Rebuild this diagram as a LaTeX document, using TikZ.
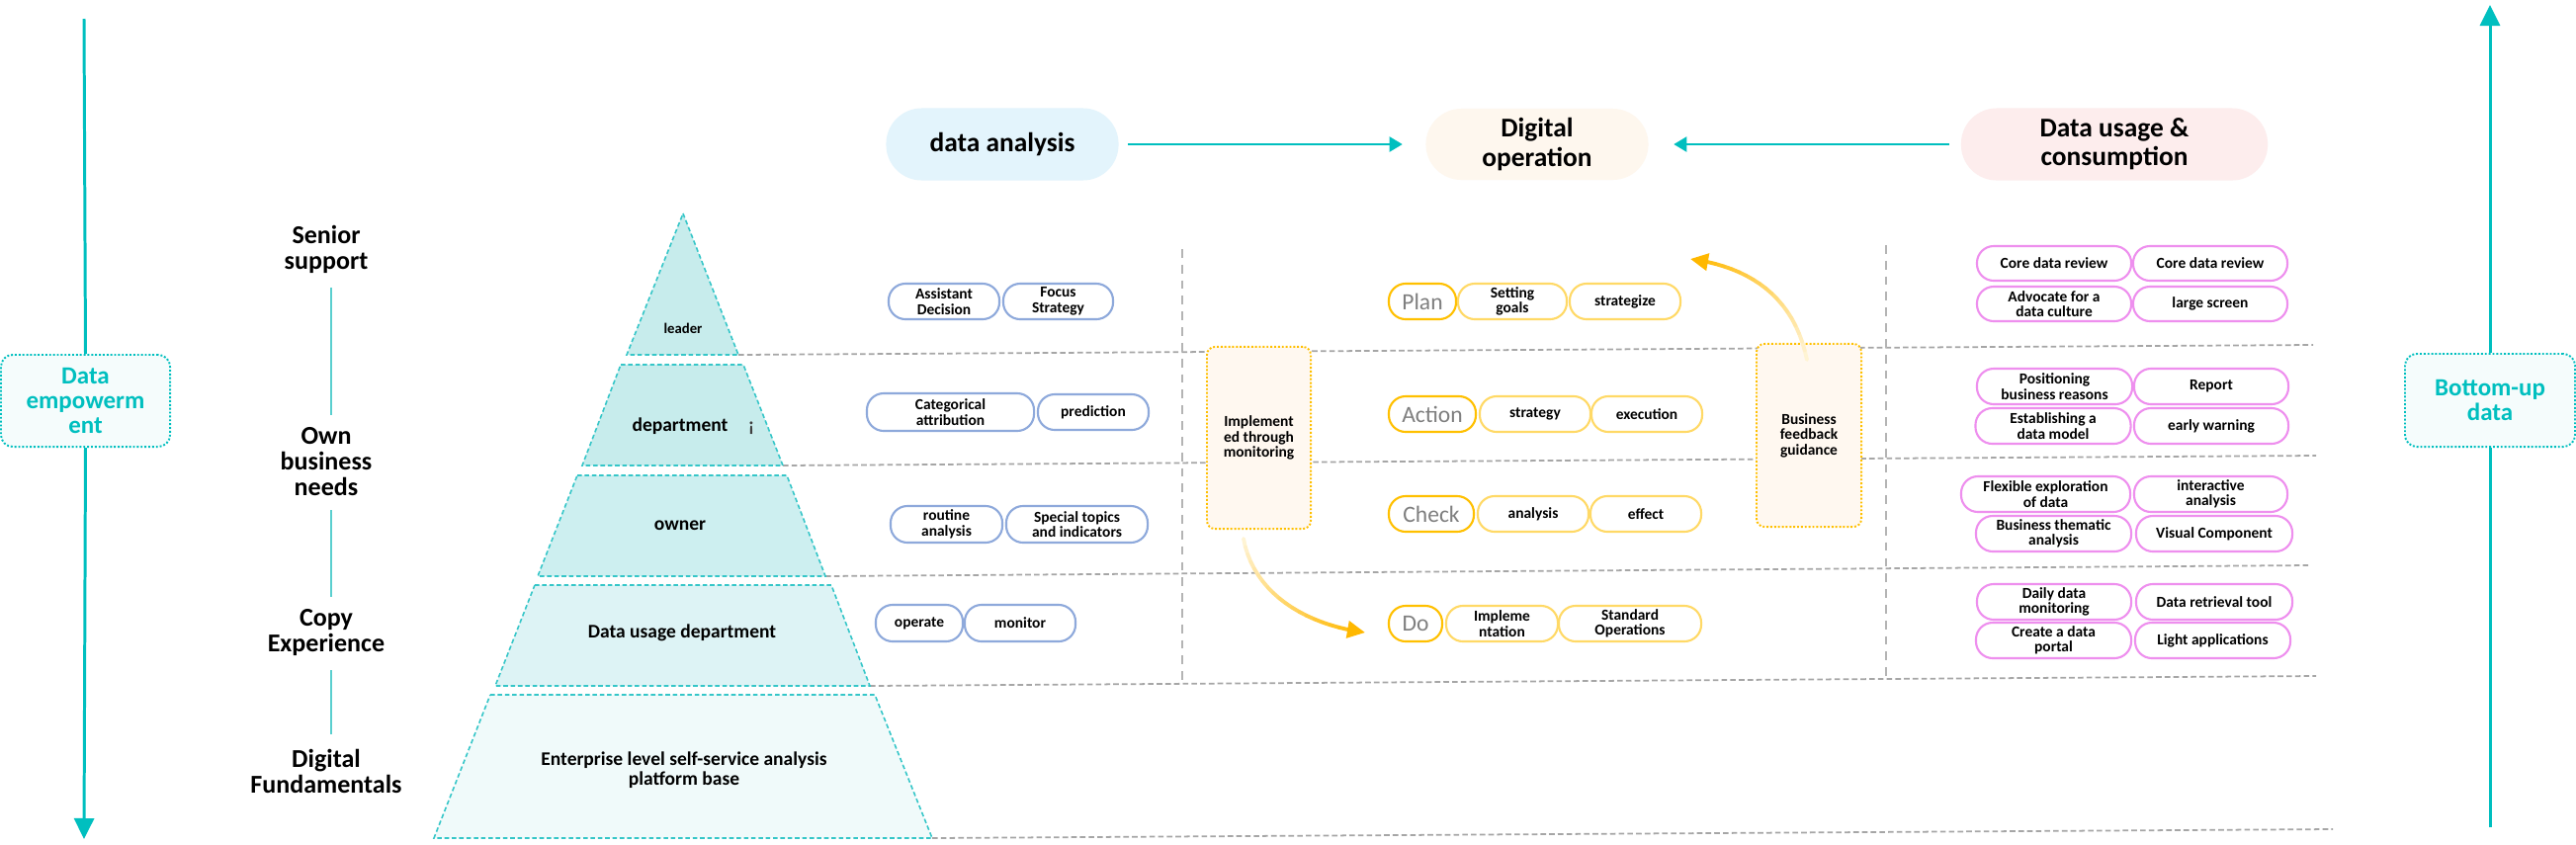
\documentclass[tikz,border=0pt]{standalone}
\usepackage{fontspec}
\setmainfont{Carlito}
\usetikzlibrary{arrows.meta}
\definecolor{tealA}{HTML}{00BFBF}
\definecolor{tealB}{HTML}{35C6C8}
\definecolor{tealC}{HTML}{5ACFCF}
\definecolor{pyrA}{HTML}{C7ECEC}
\definecolor{pyrA2}{HTML}{CDEFF0}
\definecolor{pyrB}{HTML}{DDF3F5}
\definecolor{pyrC}{HTML}{F0FAFA}
\definecolor{grayL}{HTML}{A6A6A6}
\definecolor{grayV}{HTML}{B4B4B4}
\definecolor{blueP}{HTML}{8EA9DB}
\definecolor{yelP}{HTML}{FFD966}
\definecolor{orgP}{HTML}{FFC000}
\definecolor{pinkP}{HTML}{EE8FEE}
\definecolor{creamF}{HTML}{FFF8F0}
\definecolor{hblue}{HTML}{E3F4FC}
\definecolor{hcream}{HTML}{FEF7EE}
\definecolor{hpink}{HTML}{FDEDED}
\definecolor{boxF}{HTML}{F5FCFC}
\definecolor{pdcaT}{HTML}{7F7F7F}
\definecolor{orgA}{HTML}{FFB800}
\definecolor{orgL}{HTML}{FFF6DD}
\newcommand\fpill{\fontsize{4.4pt}{4.4pt}\selectfont\bfseries}
\newcommand\fleader{\fontsize{4.2pt}{4.4pt}\selectfont\bfseries}
\newcommand\fpyr{\fontsize{5.55pt}{5.7pt}\selectfont\bfseries}
\newcommand\fside{\fontsize{7.4pt}{7.4pt}\selectfont\bfseries}
\newcommand\fteal{\fontsize{7.1pt}{7.1pt}\selectfont\bfseries}
\newcommand\fhead{\fontsize{7.8pt}{8.3pt}\selectfont\bfseries}
\newcommand\fpdca{\fontsize{6.7pt}{6.7pt}\selectfont}
\newcommand\gradarrow[8]{%
  \foreach \k in {0,...,17}{%
    \pgfmathsetmacro\gta{\k/20}%
    \pgfmathsetmacro\gtb{(\k+1)/20}%
    \pgfmathsetmacro\gua{1-\gta}%
    \pgfmathsetmacro\gub{1-\gtb}%
    \pgfmathsetmacro\gxa{\gua*\gua*\gua*#1+3*\gua*\gua*\gta*#3+3*\gua*\gta*\gta*#5+\gta*\gta*\gta*#7}%
    \pgfmathsetmacro\gya{\gua*\gua*\gua*#2+3*\gua*\gua*\gta*#4+3*\gua*\gta*\gta*#6+\gta*\gta*\gta*#8}%
    \pgfmathsetmacro\gxb{\gub*\gub*\gub*#1+3*\gub*\gub*\gtb*#3+3*\gub*\gtb*\gtb*#5+\gtb*\gtb*\gtb*#7}%
    \pgfmathsetmacro\gyb{\gub*\gub*\gub*#2+3*\gub*\gub*\gtb*#4+3*\gub*\gtb*\gtb*#6+\gtb*\gtb*\gtb*#8}%
    \pgfmathtruncatemacro\gpc{100*\gtb}%
    \draw[line width=1.1pt, line cap=round, draw=orgA!\gpc!orgL] (\gxa,\gya) -- (\gxb,\gyb);
  }%
  \pgfmathsetmacro\gxa{0.001*#1+0.027*#3+0.243*#5+0.729*#7}%
  \pgfmathsetmacro\gya{0.001*#2+0.027*#4+0.243*#6+0.729*#8}%
  \draw[line width=1.1pt, draw=orgA, fill=orgA, -{Triangle[length=0.18cm,width=0.17cm]}] (\gxa,\gya) -- (#7,#8);
}
\begin{document}
\begin{tikzpicture}[x=0.01cm,y=-0.01cm,
  pill/.style={draw, line width=0.6pt, fill=white, rounded corners=0.17cm, inner sep=0pt, align=center, font=\fpill, text=black},
  bpill/.style={pill, draw=blueP},
  ypill/.style={pill, draw=yelP},
  opill/.style={pill, draw=orgP, font=\fpdca, text=pdcaT},
  ppill/.style={pill, draw=pinkP},
  head/.style={rounded corners=0.36cm, inner sep=0pt, align=center, font=\fhead},
  sidebox/.style={draw=tealA, fill=boxF, line width=0.55pt, dash pattern=on 0.55pt off 0.55pt, rounded corners=0.12cm, font=\fteal, text=tealA, align=center, inner sep=0pt},
  fbk/.style={draw=orgP, fill=creamF, line width=0.55pt, dash pattern=on 0.55pt off 0.55pt, rounded corners=0.08cm, font=\fpill, align=center, inner sep=0pt},
  lab/.style={font=\fside, align=center, inner sep=0pt},
  pyr/.style={draw=tealB, line width=0.45pt, dash pattern=on 1.3pt off 0.8pt},
  ptext/.style={font=\fpyr, align=center, inner sep=0pt},
  gline/.style={draw=grayL, line width=0.5pt, dash pattern=on 1.6pt off 0.9pt},
  vline/.style={draw=grayV, line width=0.5pt, dash pattern=on 2.5pt off 2pt},
  tarrow/.style={draw=tealA, line width=0.6pt, -{Triangle[length=0.13cm,width=0.15cm]}},
  sarrow/.style={draw=tealA, line width=0.85pt, -{Triangle[length=0.21cm,width=0.2cm]}},
  sline/.style={draw=tealA, line width=0.85pt},
  tline/.style={draw=tealC, line width=0.45pt}]
\useasboundingbox (0,0) rectangle (2606,854);
\fill[white] (0,0) rectangle (2606,854);

% headers
\node[head, fill=hblue, minimum width=2.35cm, minimum height=0.73cm] (hDA) at (1014,146) {data analysis};
\node[head, fill=hcream, minimum width=2.25cm, minimum height=0.72cm] (hDO) at (1555,146) {Digital\\operation};
\node[head, fill=hpink, minimum width=3.10cm, minimum height=0.73cm] (hDU) at (2139,146) {Data usage \&\\consumption};
\draw[tarrow, shorten <=0.09cm, shorten >=0.23cm] (hDA.east) -- (hDO.west);
\draw[tarrow, shorten <=0.11cm, shorten >=0.25cm] (hDU.west) -- (hDO.east);

% side arrows
\coordinate (LT) at (85,19);
\coordinate (LB) at (85,849);
\node[sidebox, minimum width=1.71cm, minimum height=0.93cm] (DE) at (86.5,405.5) {Data\\empowerm\\ent};
\draw[sline] (LT) -- (DE.north);
\draw[sarrow] (DE.south) -- (LB);
\coordinate (RB) at (2519,837);
\coordinate (RT) at (2519,5);
\node[sidebox, minimum width=1.72cm, minimum height=0.94cm] (BU) at (2519,405) {Bottom-up\\data};
\draw[sline] (RB) -- (BU.south);
\draw[sarrow] (BU.north) -- (RT);

% left labels
\node[lab] (lS) at (330,252) {Senior\\support};
\node[lab] (lO) at (330,467) {Own\\business\\needs};
\node[lab] (lC) at (330,640) {Copy\\Experience};
\node[lab] (lD) at (330,780) {Digital\\Fundamentals};
\draw[tline, shorten <=0.14cm, shorten >=0.12cm] (lS.south -| 335,0) -- (lO.north -| 335,0);
\draw[tline, shorten <=0.14cm, shorten >=0.12cm] (lO.south -| 335,0) -- (lC.north -| 335,0);
\draw[tline, shorten <=0.14cm, shorten >=0.14cm] (lC.south -| 335,0) -- (lD.north -| 335,0);

% gray grid lines
\draw[gline] (747,359) -- (2340,349);
\draw[gline] (792,471) -- (2343,461);
\draw[gline] (835,583) -- (2337,572);
\draw[gline] (880,694) -- (2343,684);
\draw[gline] (943,848) -- (2360,839);
\draw[vline] (1196,252) -- (1196,692);
\draw[vline] (1908,248) -- (1908,690);

% pyramid
\filldraw[pyr, fill=pyrA] (691,216) -- (747,359) -- (634,359) -- cycle;
\node[ptext, font=\fleader] (pL) at (691,332) {leader};
\filldraw[pyr, fill=pyrA] (628,369) -- (752,369) -- (792,471) -- (589,471) -- cycle;
\node[ptext] (pDep) at (688,431) {department};
\node[font=\fpyr, text=darkgray, inner sep=0pt] (pMark) at (760,433) {¡};
\filldraw[pyr, fill=pyrA2] (584,481) -- (796,481) -- (835,583) -- (544,583) -- cycle;
\node[ptext] (pOwn) at (688,532) {owner};
\filldraw[pyr, fill=pyrB] (541,592) -- (841,592) -- (880,694) -- (501,694) -- cycle;
\node[ptext] (pDU) at (690,640) {Data usage department};
\filldraw[pyr, fill=pyrC] (496,703) -- (885,703) -- (943,848) -- (439,848) -- cycle;
\node[ptext] (pEnt) at (692,779) {Enterprise level self-service analysis\\platform base};

% feedback boxes
\node[fbk, minimum width=1.05cm, minimum height=1.84cm] (imp) at (1273.5,443) {Implement\\ed through\\monitoring};
\node[fbk, minimum width=1.06cm, minimum height=1.85cm] (bfg) at (1830,440.5) {Business\\feedback\\guidance};

% blue pills
\node[bpill, minimum width=1.12cm, minimum height=0.36cm] (b1) at (955,305) {Assistant\\Decision};
\node[bpill, minimum width=1.11cm, minimum height=0.36cm] (b2) at (1070.5,305) {Focus\\Strategy};
\node[bpill, minimum width=1.69cm, minimum height=0.38cm] (b3) at (961.5,417) {Categorical\\attribution};
\node[bpill, minimum width=1.12cm, minimum height=0.36cm] (b4) at (1106,417) {prediction};
\node[bpill, minimum width=1.13cm, minimum height=0.37cm] (b5) at (957.5,530.5) {routine\\analysis};
\node[bpill, minimum width=1.43cm, minimum height=0.37cm] (b6) at (1089.5,530.5) {Special topics\\and indicators};
\node[bpill, minimum width=0.88cm, minimum height=0.37cm] (b7) at (930,630.5) {operate};
\node[bpill, minimum width=1.12cm, minimum height=0.37cm] (b8) at (1032,630.5) {monitor};

% PDCA pills
\node[opill, minimum width=0.68cm, minimum height=0.36cm] (oP) at (1439,305) {Plan};
\node[ypill, minimum width=1.10cm, minimum height=0.36cm] (oP1) at (1530,305) {Setting\\goals};
\node[ypill, minimum width=1.12cm, minimum height=0.36cm] (oP2) at (1644,305) {strategize};
\node[opill, minimum width=0.88cm, minimum height=0.36cm] (oA) at (1449,419) {Action};
\node[ypill, minimum width=1.12cm, minimum height=0.36cm] (oA1) at (1553,419) {strategy};
\node[ypill, minimum width=1.12cm, minimum height=0.36cm] (oA2) at (1666,419) {execution};
\node[opill, minimum width=0.86cm, minimum height=0.36cm] (oC) at (1448,520) {Check};
\node[ypill, minimum width=1.12cm, minimum height=0.36cm] (oC1) at (1551,520) {analysis};
\node[ypill, minimum width=1.12cm, minimum height=0.36cm] (oC2) at (1665,520) {effect};
\node[opill, minimum width=0.54cm, minimum height=0.36cm] (oD) at (1432,631) {Do};
\node[ypill, minimum width=1.13cm, minimum height=0.36cm] (oD1) at (1519.5,631) {Impleme\\ntation};
\node[ypill, minimum width=1.44cm, minimum height=0.36cm] (oD2) at (1649,631) {Standard\\Operations};

% pink pills
\node[ppill, minimum width=1.56cm, minimum height=0.35cm] (p1) at (2078,266.5) {Core data review};
\node[ppill, minimum width=1.56cm, minimum height=0.35cm] (p2) at (2236,266.5) {Core data review};
\node[ppill, minimum width=1.56cm, minimum height=0.35cm] (p3) at (2078,307.5) {Advocate for a\\data culture};
\node[ppill, minimum width=1.56cm, minimum height=0.35cm] (p4) at (2236,307.5) {large screen};
\node[ppill, minimum width=1.57cm, minimum height=0.36cm] (p5) at (2078.5,391) {Positioning\\business reasons};
\node[ppill, minimum width=1.56cm, minimum height=0.36cm] (p6) at (2237,391) {Report};
\node[ppill, minimum width=1.57cm, minimum height=0.36cm] (p7) at (2077,431) {Establishing a\\data model};
\node[ppill, minimum width=1.56cm, minimum height=0.36cm] (p8) at (2237,431) {early warning};
\node[ppill, minimum width=1.71cm, minimum height=0.36cm] (p9) at (2069.5,500) {Flexible exploration\\of data};
\node[ppill, minimum width=1.55cm, minimum height=0.36cm] (p10) at (2236.5,500) {interactive\\analysis};
\node[ppill, minimum width=1.57cm, minimum height=0.36cm] (p11) at (2077.5,540) {Business thematic\\analysis};
\node[ppill, minimum width=1.58cm, minimum height=0.36cm] (p12) at (2240,540) {Visual Component};
\node[ppill, minimum width=1.56cm, minimum height=0.36cm] (p13) at (2078,609) {Daily data\\monitoring};
\node[ppill, minimum width=1.58cm, minimum height=0.36cm] (p14) at (2240,609) {Data retrieval tool};
\node[ppill, minimum width=1.57cm, minimum height=0.36cm] (p15) at (2077.5,648) {Create a data\\portal};
\node[ppill, minimum width=1.57cm, minimum height=0.36cm] (p16) at (2238.5,648) {Light applications};

% orange gradient arrows
\gradarrow{1258}{545}{1268}{600}{1320}{632}{1381}{640}
\gradarrow{1828}{364}{1815}{300}{1770}{270}{1710}{262}
\end{tikzpicture}
\end{document}
